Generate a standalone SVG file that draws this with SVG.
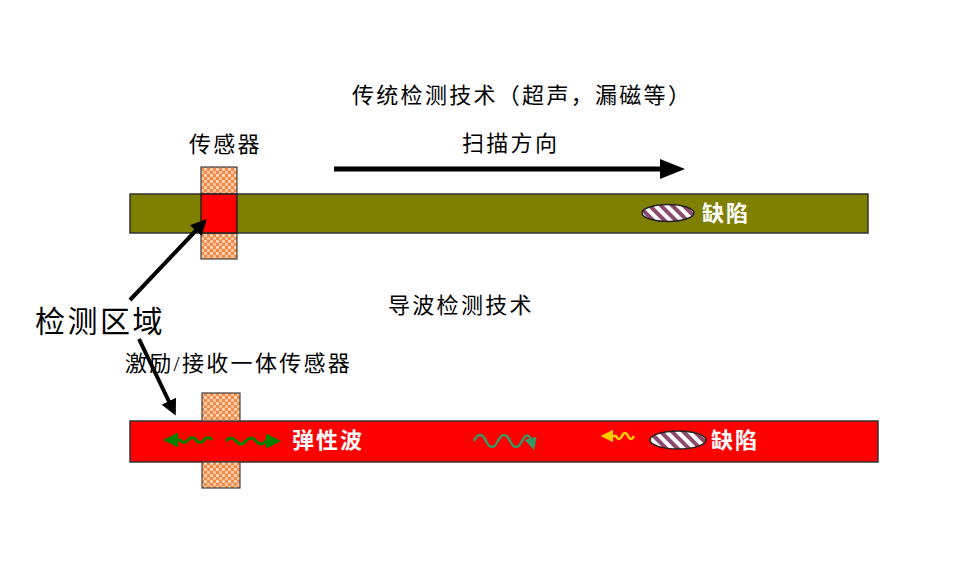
<svg xmlns="http://www.w3.org/2000/svg" width="956" height="562" viewBox="0 0 956 562">
<style>
.t{font-family:"Liberation Serif","Noto Sans CJK SC",serif;fill:#000;font-size:22px;letter-spacing:2.3px}
.w{font-family:"Liberation Sans","Noto Sans CJK SC",sans-serif;fill:#fff;font-weight:bold;font-size:22px;letter-spacing:2px}
.pad{fill:url(#chk);stroke:#404040;stroke-width:1.2}
.bar{stroke:#333;stroke-width:1.5}
.ptr{stroke:#000;stroke-width:4;fill:none;marker-end:url(#ah)}
</style>
<defs>
<pattern id="chk" width="6" height="6" patternUnits="userSpaceOnUse">
<rect width="6" height="6" fill="#f28a4a"/>
<rect x="0" y="0" width="3" height="3" fill="#f7c49c"/>
<rect x="3" y="3" width="3" height="3" fill="#f7c49c"/>
<circle cx="1.5" cy="1.5" r="0.8" fill="#fff"/>
</pattern>
<pattern id="str" width="8" height="8" patternUnits="userSpaceOnUse" patternTransform="rotate(-45)">
<rect width="8" height="8" fill="#fff"/>
<rect width="4" height="8" fill="#8b4a6e"/>
</pattern>
<marker id="ah" markerWidth="4" markerHeight="4" refX="3" refY="2" orient="auto" markerUnits="strokeWidth">
<path d="M0,0 L4,2 L0,4 z" fill="#000"/>
</marker>
<marker id="big" markerWidth="5" markerHeight="4" refX="2" refY="2" orient="auto" markerUnits="strokeWidth">
<path d="M0,0 L5,2 L0,4 z" fill="#000"/>
</marker>
<marker id="gh" markerWidth="5" markerHeight="5" refX="2" refY="2.5" orient="auto" markerUnits="strokeWidth">
<path d="M0,0 L5,2.5 L0,5 z" fill="#008000"/>
</marker>
<marker id="th" markerWidth="5" markerHeight="5" refX="2" refY="2.5" orient="auto" markerUnits="strokeWidth">
<path d="M0,0 L5,2.5 L0,5 z" fill="#339966"/>
</marker>
<marker id="yh" markerWidth="5" markerHeight="5" refX="2" refY="2.5" orient="auto" markerUnits="strokeWidth">
<path d="M0,0 L5,2.5 L0,5 z" fill="#ffcc00"/>
</marker>
</defs>
<rect width="956" height="562" fill="#fff"/>

<g id="title-traditional"><text class="t" x="352" y="103">传统检测技术（超声，漏磁等）</text></g>
<g id="label-scan"><text class="t" x="462" y="151">扫描方向</text></g>
<g id="label-sensor"><text class="t" x="189" y="152">传感器</text></g>
<g id="title-guided"><text class="t" x="388" y="313">导波检测技术</text></g>
<g id="label-region"><text class="t" x="35" y="332" style="font-size:30px;letter-spacing:2.5px">检测区域</text></g>
<g id="label-transducer"><text class="t" x="125" y="371">激励/接收一体传感器</text></g>

<g id="top-pipe">
<rect class="bar" x="130" y="194" width="738" height="39" fill="#808000"/>
</g>
<g id="top-sensor">
<rect class="pad" x="201" y="167" width="36" height="27"/>
<rect class="pad" x="201" y="233" width="36" height="26"/>
<rect x="201" y="194" width="36" height="39" fill="#ff0000" stroke="#222" stroke-width="1.5"/>
</g>
<g id="top-defect">
<ellipse cx="668" cy="213" rx="26" ry="8.5" fill="url(#str)" stroke="#222" stroke-width="1.5"/>
<text class="w" x="702" y="221">缺陷</text>
</g>

<g id="bottom-pipe">
<rect class="bar" x="130" y="421" width="748" height="41" fill="#ff0000"/>
</g>
<g id="bottom-sensor">
<rect class="pad" x="202" y="393" width="38" height="28"/>
<rect class="pad" x="202" y="462" width="38" height="26"/>
</g>
<g id="bottom-defect">
<ellipse cx="678" cy="440" rx="28" ry="9" fill="url(#str)" stroke="#222" stroke-width="1.5"/>
<text class="w" x="711" y="448">缺陷</text>
</g>
<g id="label-wave"><text class="w" x="292" y="448">弹性波</text></g>

<g id="connectors">
<line x1="334" y1="169" x2="670" y2="169" stroke="#000" stroke-width="5" marker-end="url(#big)"/>
<line class="ptr" x1="130" y1="300" x2="204" y2="222"/>
<line class="ptr" x1="139" y1="339" x2="174" y2="412"/>
<path d="M212,440 q-4,-5 -8,0 t-8,0 t-8,0 t-8,0 h-8" fill="none" stroke="#008000" stroke-width="3" marker-end="url(#gh)"/>
<path d="M226,441 q5,-6 10,0 t10,0 t10,0 t10,0 h6" fill="none" stroke="#008000" stroke-width="3" marker-end="url(#gh)"/>
<path d="M474,441 q6,-12 12,0 t12,0 t12,0 t12,0 t10,2" fill="none" stroke="#339966" stroke-width="2.5" marker-end="url(#th)"/>
<path d="M634,436 q-3,6 -6,0 t-6,0 t-6,0 h-8" fill="none" stroke="#ffcc00" stroke-width="2.5" marker-end="url(#yh)"/>
</g>
</svg>
